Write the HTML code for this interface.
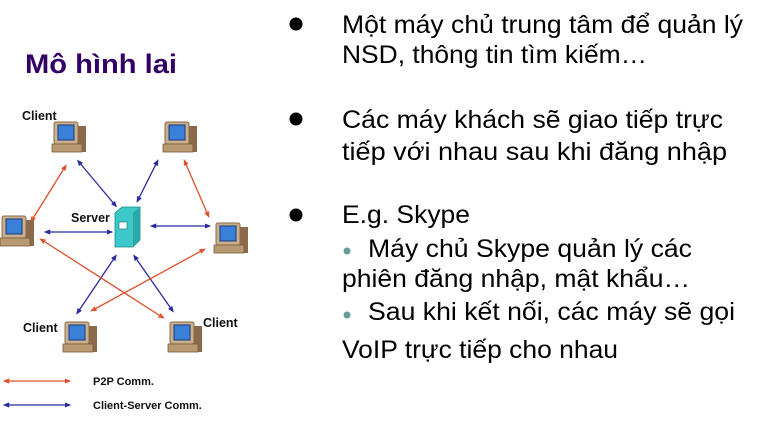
<!DOCTYPE html>
<html><head><meta charset="utf-8"><style>
html,body{margin:0;padding:0;background:#fff;}
svg{display:block;font-family:"Liberation Sans",Arial,sans-serif;}
</style></head><body>
<svg width="758" height="433" viewBox="0 0 758 433" xmlns="http://www.w3.org/2000/svg">
<defs>
<marker id="ob" viewBox="0 0 10 10" refX="5" refY="5" markerWidth="5" markerHeight="5" orient="auto-start-reverse"><path d="M0,1 L10,5 L0,9z" fill="#e0502a"/></marker>
<marker id="bb" viewBox="0 0 10 10" refX="5" refY="5" markerWidth="5" markerHeight="5" orient="auto-start-reverse"><path d="M0,1 L10,5 L0,9z" fill="#2a2aa0"/></marker>
<g id="pc">
<rect x="22" y="6" width="12" height="26" fill="#8a6a4a"/>
<rect x="2" y="2" width="24" height="22" rx="2" fill="#c9b08a" stroke="#8a6a4a" stroke-width="1"/>
<rect x="6" y="5" width="16" height="15" fill="#3a7fd8" stroke="#1a3a80" stroke-width="1"/>
<rect x="0" y="24" width="30" height="8" fill="#b89a72" stroke="#7a5a3a" stroke-width="0.8"/>
</g>
</defs>
<text x="25" y="73" font-size="27" font-weight="bold" fill="#330066" textLength="152" lengthAdjust="spacingAndGlyphs">Mô hình lai</text>

<g stroke-width="1.3" fill="none">
<line x1="79" y1="162" x2="115" y2="205" stroke="#2a2aa0" marker-start="url(#bb)" marker-end="url(#bb)"/>
<line x1="157" y1="162" x2="138" y2="200" stroke="#2a2aa0" marker-start="url(#bb)" marker-end="url(#bb)"/>
<line x1="47" y1="232" x2="110" y2="232" stroke="#2a2aa0" marker-start="url(#bb)" marker-end="url(#bb)"/>
<line x1="153" y1="226" x2="208" y2="226" stroke="#2a2aa0" marker-start="url(#bb)" marker-end="url(#bb)"/>
<line x1="115" y1="257" x2="78" y2="312" stroke="#2a2aa0" marker-start="url(#bb)" marker-end="url(#bb)"/>
<line x1="135" y1="257" x2="172" y2="310" stroke="#2a2aa0" marker-start="url(#bb)" marker-end="url(#bb)"/>
<line x1="65" y1="167" x2="32" y2="220" stroke="#e0502a" marker-start="url(#ob)" marker-end="url(#ob)"/>
<line x1="185" y1="162" x2="208" y2="215" stroke="#e0502a" marker-start="url(#ob)" marker-end="url(#ob)"/>
<line x1="42" y1="240" x2="162" y2="317" stroke="#e0502a" marker-start="url(#ob)" marker-end="url(#ob)"/>
<line x1="203" y1="250" x2="93" y2="310" stroke="#e0502a" marker-start="url(#ob)" marker-end="url(#ob)"/>
<line x1="6" y1="381" x2="68" y2="381" stroke="#e0502a" marker-start="url(#ob)" marker-end="url(#ob)"/>
<line x1="6" y1="405" x2="68" y2="405" stroke="#2a2aa0" marker-start="url(#bb)" marker-end="url(#bb)"/>
</g>

<use href="#pc" x="52" y="120"/>
<use href="#pc" x="163" y="120"/>
<use href="#pc" x="0" y="214"/>
<use href="#pc" x="214" y="221"/>
<use href="#pc" x="63" y="320"/>
<use href="#pc" x="168" y="320"/>

<polygon points="115,213 122,207 140,207 140,240 133,247 115,247" fill="#3cc8c8" stroke="#1a8a8a" stroke-width="0.8"/>
<polygon points="133,213 140,207 140,240 133,247" fill="#2aa8a8"/>
<rect x="119" y="222" width="8" height="7" fill="#fff" stroke="#1a6a6a" stroke-width="0.6"/>

<g font-size="12.5" font-weight="bold" fill="#111">
<text x="22" y="120">Client</text>
<text x="71" y="222">Server</text>
<text x="23" y="332">Client</text>
<text x="203" y="327">Client</text>
<text x="93" y="385" font-size="11">P2P Comm.</text>
<text x="93" y="409" font-size="11">Client-Server Comm.</text>
</g>

<g fill="#000">
<circle cx="296" cy="24" r="6.5"/>
<circle cx="296" cy="119" r="6.5"/>
<circle cx="296" cy="215" r="6.5"/>
</g>
<g fill="#6a9a9a">
<circle cx="347" cy="251" r="3.5"/>
<circle cx="347" cy="315" r="3.5"/>
</g>
<g font-size="25" fill="#000">
<text x="342" y="33" textLength="401" lengthAdjust="spacingAndGlyphs">Một máy chủ trung tâm để quản lý</text>
<text x="342" y="63" textLength="305" lengthAdjust="spacingAndGlyphs">NSD, thông tin tìm kiếm…</text>
<text x="342" y="128" textLength="381" lengthAdjust="spacingAndGlyphs">Các máy khách sẽ giao tiếp trực</text>
<text x="342" y="160" textLength="385" lengthAdjust="spacingAndGlyphs">tiếp với nhau  sau khi đăng nhập</text>
<text x="342" y="223" textLength="128" lengthAdjust="spacingAndGlyphs">E.g. Skype</text>
<text x="368" y="257" textLength="324" lengthAdjust="spacingAndGlyphs">Máy chủ Skype quản lý các</text>
<text x="342" y="287" textLength="348" lengthAdjust="spacingAndGlyphs">phiên đăng nhập, mật khẩu…</text>
<text x="368" y="320" textLength="367" lengthAdjust="spacingAndGlyphs">Sau khi kết nối, các máy sẽ gọi</text>
<text x="342" y="358" textLength="276" lengthAdjust="spacingAndGlyphs">VoIP trực tiếp cho nhau</text>
</g>
</svg>
</body></html>
